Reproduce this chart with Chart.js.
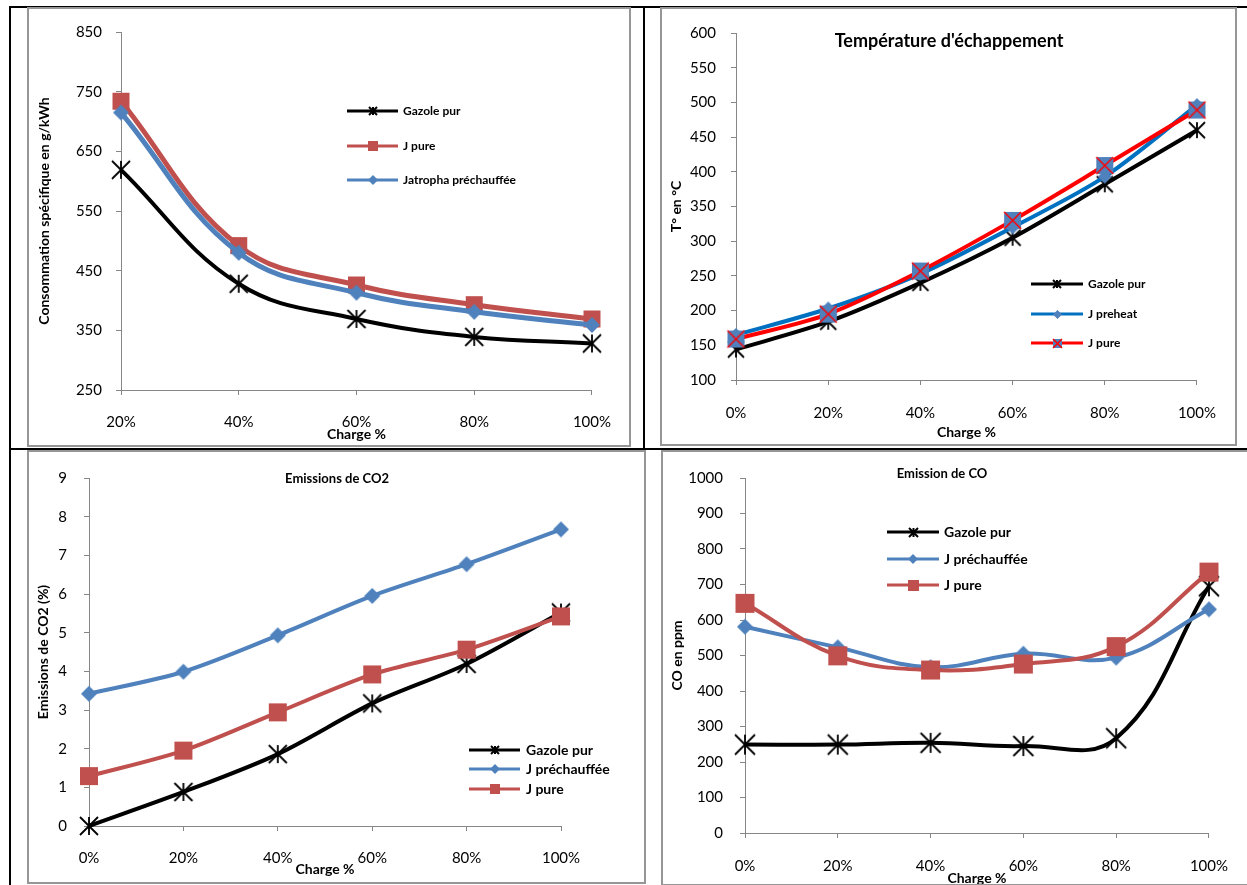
<!DOCTYPE html>
<html>
<head>
<meta charset="utf-8">
<script src="https://cdn.jsdelivr.net/npm/chart.js@4.4.1/dist/chart.umd.min.js"></script>
<style>
body { margin: 0; background: #fff; width: 1247px; height: 885px; position: relative; overflow: hidden; }
.blk { position: absolute; background: #000; }
.frame { position: absolute; border: 2px solid #969696; box-sizing: border-box; }
canvas { position: absolute; }
</style>
</head>
<body>
<div class="blk" style="left:9px;top:6px;width:1238px;height:2px"></div>
<div class="blk" style="left:9px;top:6px;width:2px;height:879px"></div>
<div class="blk" style="left:643px;top:6px;width:2px;height:443px"></div>
<div class="blk" style="left:9px;top:448px;width:1238px;height:2px"></div>

<canvas id="cConso" width="600" height="436" style="left:29px;top:9px"></canvas>
<canvas id="cTemp" width="573" height="435" style="left:662px;top:9px"></canvas>
<canvas id="cCO2" width="615" height="430" style="left:29px;top:452px"></canvas>
<canvas id="cCO" width="584" height="433" style="left:663px;top:452px"></canvas>

<div class="frame" style="left:27px;top:7px;width:604px;height:440px"></div>
<div class="frame" style="left:660px;top:7px;width:577px;height:439px"></div>
<div class="frame" style="left:27px;top:450px;width:619px;height:434px"></div>
<div class="frame" style="left:661px;top:450px;width:600px;height:436px"></div>

<script>
// categories
const chargeA = ['20%', '40%', '60%', '80%', '100%'];
const chargeB = ['0%', '20%', '40%', '60%', '80%', '100%'];

// consommation specifique (g/kWh)
const consoGazole = [619, 428, 369, 339, 328];
const consoJPure = [734, 492, 426, 393, 369];
const consoJatropha = [715, 480, 413, 381, 359];

// temperature d'echappement (°C)
const tempGazole = [144, 184, 240, 305, 382, 460];
const tempJPreheat = [165, 203, 253, 320, 393, 496];
const tempJPure = [159, 195, 257, 330, 409, 489];

// emissions de CO2 (%)
const co2Gazole = [0, 0.88, 1.86, 3.17, 4.19, 5.52];
const co2JPrech = [3.42, 3.99, 4.93, 5.95, 6.77, 7.67];
const co2JPure = [1.29, 1.95, 2.94, 3.92, 4.56, 5.42];

// emission de CO (ppm)
const coGazole = [249, 249, 254, 245, 267, 695];
const coJPrech = [581, 523, 467, 505, 494, 630];
const coJPure = [647, 499, 459, 476, 525, 735];

const FONT = 'Lato';
const RED = '#C0504D', BLUE = '#4F81BD';
const TICK = 15, AXT = 14;

// excel-like marker pictures
function marker(kind, size, fill, stroke, lw) {
  const pad = Math.ceil(lw || 1) + 1;
  const c = document.createElement('canvas');
  c.width = c.height = size + pad * 2;
  const g = c.getContext('2d');
  const m = c.width / 2, h = size / 2;
  g.fillStyle = fill;
  g.strokeStyle = stroke;
  g.lineWidth = lw;
  if (kind === 'star') {
    g.beginPath();
    g.moveTo(m - h, m - h); g.lineTo(m + h, m + h);
    g.moveTo(m + h, m - h); g.lineTo(m - h, m + h);
    g.moveTo(m, m - h); g.lineTo(m, m + h);
    g.stroke();
  } else if (kind === 'square') {
    g.fillRect(m - h, m - h, size, size);
  } else if (kind === 'diamond') {
    g.beginPath();
    g.moveTo(m, m - h); g.lineTo(m + h, m); g.lineTo(m, m + h); g.lineTo(m - h, m);
    g.closePath(); g.fill();
  } else if (kind === 'squareX') {
    g.fillRect(m - h, m - h, size, size);
    g.beginPath();
    g.moveTo(m - h, m - h); g.lineTo(m + h, m + h);
    g.moveTo(m + h, m - h); g.lineTo(m - h, m + h);
    g.stroke();
  }
  return c;
}

// title + legend drawn inside the plot, like the excel charts
const panelDecor = {
  id: 'panelDecor',
  afterDraw(chart, args, opts) {
    const ctx = chart.ctx;
    ctx.save();
    ctx.fillStyle = '#000';
    ctx.textBaseline = 'middle';
    if (opts.title) {
      ctx.font = opts.title.font;
      ctx.textAlign = 'center';
      ctx.fillText(opts.title.text, opts.title.x, opts.title.y);
    }
    const lg = opts.legend;
    chart.data.datasets.forEach((ds, i) => {
      const y = lg.y[i];
      ctx.strokeStyle = ds.borderColor;
      ctx.lineWidth = lg.lineWidth;
      ctx.beginPath();
      ctx.moveTo(lg.x0, y);
      ctx.lineTo(lg.x1, y);
      ctx.stroke();
      const mk = ds.legendMarker;
      ctx.drawImage(mk, Math.round((lg.x0 + lg.x1) / 2 - mk.width / 2), Math.round(y - mk.height / 2));
      ctx.font = lg.font;
      ctx.textAlign = 'left';
      ctx.fillStyle = '#000';
      ctx.fillText(ds.label, lg.textX, y);
    });
    ctx.restore();
  }
};

function series(label, data, color, width, pt, legendPt, idx, n) {
  return {
    label: label, data: data,
    borderColor: color, backgroundColor: color, borderWidth: width,
    pointStyle: pt, pointRadius: 9, legendMarker: legendPt,
    order: n - idx, clip: false
  };
}

function buildChart(id, labels, datasets, g) {
  const lhTick = TICK * 1.2, lhTitle = AXT * 1.2;
  const axisGrey = '#868686';
  return new Chart(document.getElementById(id), {
    type: 'line',
    data: { labels: labels, datasets: datasets },
    plugins: [panelDecor],
    options: {
      responsive: false,
      animation: false,
      devicePixelRatio: 1,
      layout: { padding: { left: 0, top: g.t, right: g.w - g.r, bottom: 0 } },
      elements: { line: { tension: g.tension } },
      plugins: {
        legend: { display: false },
        tooltip: { enabled: false },
        panelDecor: { title: g.title, legend: g.legend }
      },
      scales: {
        x: {
          offset: false,
          grid: { drawOnChartArea: false, drawTicks: true, tickLength: 5, color: axisGrey },
          border: { color: axisGrey, width: 1 },
          ticks: { font: { family: FONT, size: TICK }, color: '#000', padding: g.xLabelDy - 5 - lhTick / 2, maxRotation: 0, autoSkip: false },
          title: { display: true, text: 'Charge %', color: '#000', font: { family: FONT, size: AXT, weight: 'bold' },
                   padding: { top: 0, bottom: (g.h - g.b) - g.xTitleDy - lhTitle / 2 } },
          afterFit: function (s) { s.height = g.h - g.b; }
        },
        y: {
          min: g.min, max: g.max,
          grid: { drawOnChartArea: false, drawTicks: true, tickLength: 5, color: axisGrey },
          border: { color: axisGrey, width: 1 },
          ticks: { stepSize: g.step, font: { family: FONT, size: TICK }, color: '#000', padding: g.yGap - 5,
                   callback: function (v) { return String(v); } },
          title: { display: true, text: g.yTitle, color: '#000', font: { family: FONT, size: AXT, weight: 'bold' },
                   padding: { top: g.yTitleX - lhTitle / 2, bottom: 0 } },
          afterFit: function (s) { s.width = g.l; }
        }
      }
    }
  });
}

// top left: consommation specifique
buildChart('cConso', chargeA, [
  series('Gazole pur', consoGazole, '#000', 4, marker('star', 18, '#000', '#000', 1.8), marker('star', 8, '#000', '#000', 2), 0, 3),
  series('J pure', consoJPure, RED, 5, marker('square', 17, RED), marker('square', 10, RED), 1, 3),
  series('Jatropha préchauffée', consoJatropha, BLUE, 5, marker('diamond', 16, BLUE), marker('diamond', 10, BLUE), 2, 3)
], {
  w: 600, h: 436, l: 92, r: 567, t: 13, b: 381,
  xLabelDy: 32, xTitleDy: 44, yGap: 19, yTitleX: 15,
  min: 250, max: 850, step: 100, tension: 0.4,
  yTitle: 'Consommation spécifique en g/kWh',
  legend: { x0: 318, x1: 369, textX: 374, y: [102, 137, 171], lineWidth: 3, font: 'bold 12px ' + FONT }
});

// top right: temperature d'echappement
buildChart('cTemp', chargeB, [
  series('Gazole pur', tempGazole, '#000', 4, marker('star', 16, '#000', '#000', 1.8), marker('star', 8, '#000', '#000', 2), 0, 3),
  series('J preheat', tempJPreheat, '#0070C0', 4, marker('diamond', 14, BLUE), marker('diamond', 9, BLUE), 1, 3),
  series('J pure', tempJPure, '#FF0000', 4, marker('squareX', 17, BLUE, '#FF0000', 1.5), marker('squareX', 9, BLUE, '#FF0000', 1.5), 2, 3)
], {
  w: 573, h: 435, l: 74, r: 540, t: 11, b: 371,
  xLabelDy: 33, xTitleDy: 52, yGap: 20, yTitleX: 14,
  min: 100, max: 600, step: 50, tension: 0.3,
  yTitle: 'T° en °C',
  title: { text: "Température d'échappement", x: 287, y: 32, font: 'bold 18px ' + FONT },
  legend: { x0: 369, x1: 421, textX: 426, y: [275, 305, 334], lineWidth: 3, font: 'bold 12px ' + FONT }
});

// bottom left: emissions de CO2
buildChart('cCO2', chargeB, [
  series('Gazole pur', co2Gazole, '#000', 4, marker('star', 18, '#000', '#000', 1.8), marker('star', 8, '#000', '#000', 2), 0, 3),
  series('J préchauffée', co2JPrech, BLUE, 4, marker('diamond', 16, BLUE), marker('diamond', 10, BLUE), 1, 3),
  series('J pure', co2JPure, RED, 4, marker('square', 18, RED), marker('square', 10, RED), 2, 3)
], {
  w: 615, h: 430, l: 60, r: 532, t: 8, b: 374,
  xLabelDy: 32, xTitleDy: 43, yGap: 22, yTitleX: 14,
  min: 0, max: 9, step: 1, tension: 0.3,
  yTitle: 'Emissions de CO2 (%)',
  title: { text: 'Emissions de CO2', x: 308, y: 27, font: 'bold 13px ' + FONT },
  legend: { x0: 440, x1: 491, textX: 497, y: [298, 317, 337], lineWidth: 3, font: 'bold 14px ' + FONT }
});

// bottom right: emission de CO
buildChart('cCO', chargeB, [
  series('Gazole pur', coGazole, '#000', 4, marker('star', 20, '#000', '#000', 1.8), marker('star', 9, '#000', '#000', 2), 0, 3),
  series('J préchauffée', coJPrech, BLUE, 4, marker('diamond', 16, BLUE), marker('diamond', 10, BLUE), 1, 3),
  series('J pure', coJPure, RED, 4, marker('square', 19, RED), marker('square', 11, RED), 2, 3)
], {
  w: 584, h: 433, l: 82, r: 550, t: 7, b: 381,
  xLabelDy: 33, xTitleDy: 45, yGap: 22, yTitleX: 14,
  min: 0, max: 1000, step: 100, tension: 0.4,
  yTitle: 'CO en ppm',
  title: { text: 'Emission de CO', x: 279, y: 22, font: 'bold 13px ' + FONT },
  legend: { x0: 224, x1: 276, textX: 281, y: [80, 107, 133], lineWidth: 3, font: 'bold 14px ' + FONT }
});
</script>
</body>
</html>
